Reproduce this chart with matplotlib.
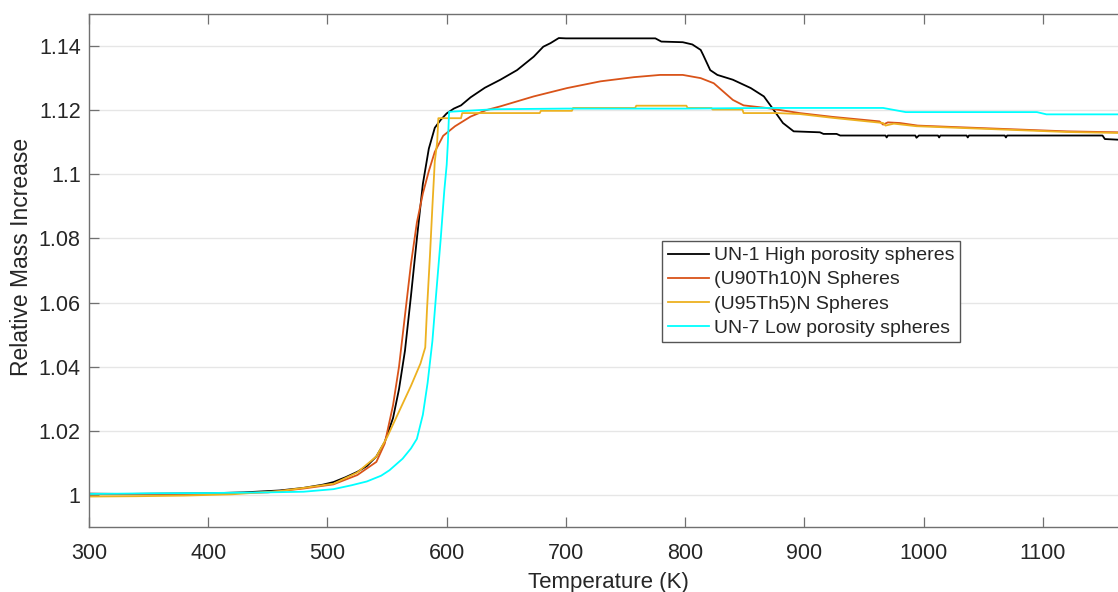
import matplotlib
matplotlib.use("Agg")
import matplotlib.pyplot as plt
from matplotlib.ticker import FuncFormatter

# ---- data ----
un1_T = [300, 330, 360, 400, 430, 460, 480, 496, 505, 515, 525, 533, 541, 548, 555, 560, 565, 570,
         575, 580, 585, 590, 595, 600, 606, 612, 620, 632, 645, 659, 673, 681, 687, 694, 700, 775,
         780, 798, 806, 813, 815, 821, 827, 840, 855, 866, 874, 882, 891, 913, 916, 927, 930, 968,
         969, 970, 993, 994, 996, 1012, 1013, 1014, 1036, 1037, 1038, 1068, 1069, 1070, 1150, 1152, 1163]
un1_y = [1.0004, 1.0003, 1.0004, 1.0005, 1.0008, 1.0014, 1.0022, 1.0032, 1.0040, 1.0055, 1.0072,
         1.0090, 1.0120, 1.0165, 1.024, 1.033, 1.045, 1.062, 1.080, 1.097, 1.108, 1.1145, 1.117,
         1.119, 1.1205, 1.1215, 1.124, 1.127, 1.1295, 1.1325, 1.1367, 1.1398, 1.1409, 1.1425,
         1.1424, 1.1424, 1.1414, 1.1412, 1.1405, 1.1388, 1.1373, 1.1325, 1.131, 1.1295, 1.1269,
         1.1243, 1.1202, 1.116, 1.1134, 1.1131, 1.1126, 1.1126, 1.1121, 1.1121,
         1.1115, 1.1121, 1.1121, 1.1114, 1.1121, 1.1121, 1.1115, 1.1121, 1.1121, 1.1115, 1.1121,
         1.1121, 1.1115, 1.1121, 1.1121, 1.111, 1.1108]

u90_T = [300, 350, 400, 450, 480, 505, 525, 541, 548, 555, 560, 565, 570, 575, 580, 585, 590, 597,
         607, 620, 633, 645, 673, 701, 729, 757, 779, 798, 813, 824, 832, 840, 849, 868, 896, 924,
         952, 963, 966, 970, 980, 995, 1022, 1064, 1120, 1163]
u90_y = [1.0002, 1.0002, 1.0004, 1.0008, 1.0020, 1.0033, 1.0062, 1.0103, 1.016, 1.028, 1.040,
         1.056, 1.072, 1.085, 1.094, 1.101, 1.107, 1.112, 1.115, 1.118, 1.120, 1.1212, 1.1243,
         1.1269, 1.129, 1.1303, 1.131, 1.131, 1.130, 1.1284, 1.1258, 1.1232, 1.1215, 1.1207,
         1.1191, 1.1179, 1.1169, 1.1165, 1.1155, 1.1162, 1.116, 1.1152, 1.1148, 1.1142, 1.1134,
         1.1131]

u95_T = [300, 340, 380, 420, 460, 480, 505, 525, 541, 550, 560, 570, 578, 582, 583.5, 586, 588,
         590, 592, 593, 612, 613, 678, 679, 705, 706, 758, 759, 801, 802, 822, 823, 848, 849, 877,
         896, 924, 966, 968, 975, 994, 1022, 1064, 1120, 1163]
u95_y = [0.9995, 0.9996, 0.9998, 1.0002, 1.0012, 1.0022, 1.0035, 1.007, 1.012, 1.018, 1.026,
         1.034, 1.041, 1.046, 1.058, 1.075, 1.09, 1.104, 1.110, 1.1175, 1.1175, 1.1191, 1.1191,
         1.1198, 1.1198, 1.1207, 1.1207, 1.1214, 1.1214, 1.1207, 1.1207, 1.1202, 1.1202, 1.1191,
         1.1191, 1.1188, 1.1176, 1.116, 1.1152, 1.1158, 1.1150, 1.1146, 1.1140, 1.1132, 1.1129]

un7_T = [300, 350, 400, 450, 480, 505, 520, 533, 545, 552, 563, 570, 575, 580, 584, 588, 591, 595,
         598, 600, 601, 602, 640, 700, 800, 870, 966, 985, 1095, 1103, 1163]
un7_y = [1.0003, 1.0005, 1.0006, 1.0008, 1.0010, 1.0018, 1.003, 1.0042, 1.006, 1.0077, 1.0113,
         1.0145, 1.0175, 1.025, 1.035, 1.048, 1.062, 1.08, 1.095, 1.103, 1.110, 1.1195, 1.1203,
         1.1205, 1.1205, 1.1207, 1.1207, 1.1194, 1.1194, 1.1187, 1.1187]

labels = ["UN-1 High porosity spheres", "(U90Th10)N Spheres",
          "(U95Th5)N Spheres", "UN-7 Low porosity spheres"]
colors = ["#000000", "#D95319", "#EDB120", "#00FFFF"]

x_ticks = [300, 400, 500, 600, 700, 800, 900, 1000, 1100]
y_ticks = [1.0, 1.02, 1.04, 1.06, 1.08, 1.10, 1.12, 1.14]

# ---- figure ----
plt.rcParams["font.family"] = ["Liberation Sans", "DejaVu Sans"]
fig = plt.figure(figsize=(11.18, 5.92), dpi=100)
ax = fig.add_axes([89 / 1118, (592 - 527) / 592, (1118 - 89) / 1118, 513 / 592])

series = [(un1_T, un1_y), (u90_T, u90_y), (u95_T, u95_y), (un7_T, un7_y)]
for (T, y), lab, c in zip(series, labels, colors):
    ax.plot(T, y, color=c, lw=1.3, label=lab)

ax.set_xlim(300, 1163)
ax.set_ylim(0.99, 1.15)
ax.set_xticks(x_ticks)
ax.set_yticks(y_ticks)
ax.yaxis.set_major_formatter(FuncFormatter(lambda v, p: f"{v:g}"))
ax.xaxis.set_major_formatter(FuncFormatter(lambda v, p: f"{v:g}"))

ax.grid(axis="y", color="#e6e6e6", lw=1.0)
ax.set_axisbelow(True)
for s in ["left", "bottom", "top"]:
    ax.spines[s].set_color("#707070")
    ax.spines[s].set_linewidth(1.0)
ax.spines["right"].set_visible(False)
ax.tick_params(direction="in", length=7, width=0.9, color="#707070",
               labelsize=15.5, labelcolor="#262626", top=True, right=False)
ax.tick_params(axis="x", pad=11.5)
ax.tick_params(axis="y", pad=6)

ax.set_xlabel("Temperature (K)", fontsize=16, color="#262626")
ax.set_ylabel("Relative Mass Increase", fontsize=16.5, color="#262626")
ax.xaxis.set_label_coords(0.505, -0.088)
ax.yaxis.set_label_coords(-0.054, 0.526)

leg = ax.legend(loc="upper left", bbox_to_anchor=(0.557, 0.5575), borderaxespad=0,
                fontsize=14, frameon=True, fancybox=False, handlelength=2.1,
                handletextpad=0.25, labelspacing=0.33, borderpad=0.3)
leg.get_frame().set_edgecolor("#555555")
leg.get_frame().set_linewidth(1.0)
leg.get_frame().set_alpha(1.0)
for t in leg.get_texts():
    t.set_color("#262626")

fig.savefig("out.png", dpi=100)
